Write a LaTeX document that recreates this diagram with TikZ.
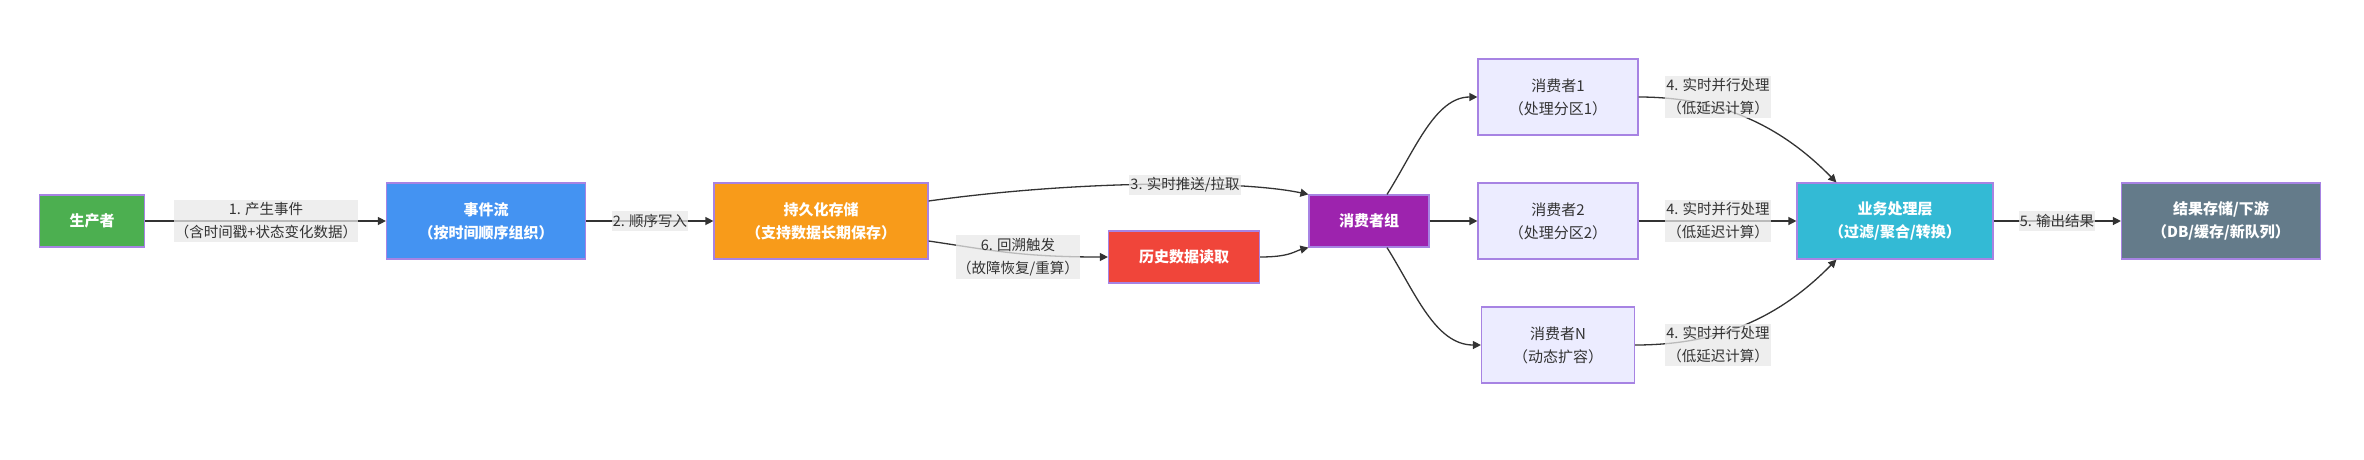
\documentclass[tikz,border=0pt]{standalone}
\usepackage{fontspec}
\setmainfont{Noto Sans CJK SC}
\usetikzlibrary{arrows.meta}

\definecolor{edgeline}{HTML}{333333}
\definecolor{boxline}{HTML}{A783E3}
\definecolor{labelbg}{HTML}{E8E8E8}
\definecolor{textgrey}{HTML}{333333}
\definecolor{consfill}{HTML}{ECECFF}
\definecolor{cgreen}{HTML}{4CAF50}
\definecolor{cblue}{HTML}{4493F2}
\definecolor{corange}{HTML}{F89B1A}
\definecolor{cred}{HTML}{F0453A}
\definecolor{cpurple}{HTML}{9D23AE}
\definecolor{ccyan}{HTML}{33BAD5}
\definecolor{cslate}{HTML}{647B8A}

\tikzset{
  box/.style = {align=center, minimum height=76pt, inner sep=0pt, text centered,
    draw=boxline, line width=1.2pt, text=white,
    font=\fontsize{15}{23}\selectfont\bfseries},% filled step box
  box_s/.style = {box, minimum height=52pt},% short box
  cons/.style = {box, fill=consfill, text=textgrey,
    font=\fontsize{15}{23}\selectfont},% consumer box
  elabel/.style = {align=center, inner xsep=1pt, inner ysep=3pt, fill=labelbg,
    fill opacity=0.75, text opacity=1, text=textgrey,
    font=\fontsize{14.5}{23}\selectfont},% edge label
  flow/.style = {draw=edgeline, line width=1.3pt,
    -{Triangle[length=8pt,width=8pt]}}% connector
}

\begin{document}
\begin{tikzpicture}[x=1pt, y=-1pt]
  \useasboundingbox (0,0) rectangle (2364,459);

  \node [box_s, fill=cgreen, minimum width=105pt] (prod) at (92,221) {生产者};
  \node [box, fill=cblue, minimum width=199pt] (stream) at (486,221) {事件流\\（按时间顺序组织）};
  \node [box, fill=corange, minimum width=214pt] (store) at (821,221) {持久化存储\\（支持数据长期保存）};
  \node [box_s, fill=cred, minimum width=151pt] (hist) at (1184,257) {历史数据读取};
  \node [box_s, fill=cpurple, minimum width=120pt] (group) at (1369,221) {消费者组};
  \node [cons, minimum width=160pt] (c1) at (1558,97) {消费者1\\（处理分区1）};
  \node [cons, minimum width=160pt] (c2) at (1558,221) {消费者2\\（处理分区2）};
  \node [cons, minimum width=153pt] (cn) at (1558,345) {消费者N\\（动态扩容）};
  \node [box, fill=ccyan, minimum width=196pt] (proc) at (1895,221) {业务处理层\\（过滤/聚合/转换）};
  \node [box, fill=cslate, minimum width=199pt] (sink) at (2221,221) {结果存储/下游\\（DB/缓存/新队列）};

  \draw [flow] (prod) -- (stream);
  \draw [flow] (stream) -- (store);
  \draw [flow] ([yshift=20pt]store.east) .. controls (1080,180) and (1240,180) .. (group.north west);
  \draw [flow] ([yshift=-20pt]store.east) .. controls (990,250) and (1020,257) .. (hist.west);
  \draw [flow] (hist.east) .. controls (1290,257) and (1295,251) .. (group.south west);
  \draw [flow] ([xshift=18pt]group.north) .. controls (1415,150) and (1435,97) .. (c1.west);
  \draw [flow] (group) -- (c2);
  \draw [flow] ([xshift=18pt]group.south) .. controls (1415,292) and (1435,345) .. (cn.west);
  \draw [flow] (c1.east) .. controls (1720,97) and (1780,125) .. ([xshift=40pt]proc.north west);
  \draw [flow] (c2) -- (proc);
  \draw [flow] (cn.east) .. controls (1720,345) and (1780,317) .. ([xshift=40pt]proc.south west);
  \draw [flow] (proc) -- (sink);

  \node [elabel] (l1) at (266,221) {1. 产生事件\\（含时间戳+状态变化数据）};
  \node [elabel] (l2) at (650,221) {2. 顺序写入};
  \node [elabel] (l3) at (1185,185) {3. 实时推送/拉取};
  \node [elabel] (l6) at (1018,257) {6. 回溯触发\\（故障恢复/重算）};
  \node [elabel] (l4a) at (1718,97) {4. 实时并行处理\\（低延迟计算）};
  \node [elabel] (l4b) at (1718,221) {4. 实时并行处理\\（低延迟计算）};
  \node [elabel] (l4n) at (1718,345) {4. 实时并行处理\\（低延迟计算）};
  \node [elabel] (l5) at (2057,221) {5. 输出结果};
\end{tikzpicture}
\end{document}
